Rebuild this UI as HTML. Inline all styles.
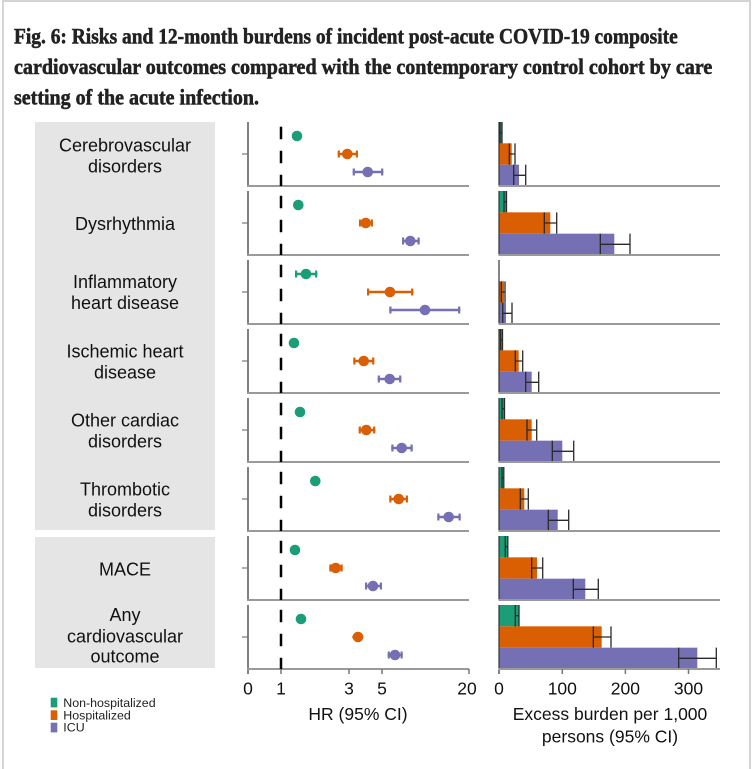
<!DOCTYPE html>
<html><head><meta charset="utf-8"><style>
html,body{margin:0;padding:0;background:#fff;}
svg{display:block;}
.ax{stroke:#555;stroke-width:1.5;}
.bx{stroke:#9a9a9a;stroke-width:2;}
.tk{stroke:#777;stroke-width:1.2;}
.dash{stroke:#000;stroke-width:2.5;stroke-dasharray:12.5 11.5;}
.eb{stroke-width:2.5;fill:none;}
.cap{stroke-width:2.2;fill:none;}
.g{stroke:#1b9e77;} .o{stroke:#d95f02;} .p{stroke:#7570b3;}
.e{stroke:#2a2a2a;stroke-width:1.3;fill:none;}
.lab{font-family:"Liberation Sans",Arial,sans-serif;font-size:18px;fill:#111;text-anchor:middle;}
.tl{font-family:"Liberation Sans",Arial,sans-serif;font-size:17.5px;fill:#111;text-anchor:middle;}
.lg{font-family:"Liberation Sans",Arial,sans-serif;font-size:12.4px;fill:#222;}
.ti{font-family:"Liberation Serif","DejaVu Serif",serif;font-weight:bold;font-size:22px;fill:#222;stroke:#222;stroke-width:0.55;}
</style></head><body>
<svg width="753" height="769" viewBox="0 0 753 769" xmlns="http://www.w3.org/2000/svg">
<rect x="0" y="0" width="753" height="769" fill="#fff"/>
<!-- frame -->
<line x1="3" y1="1" x2="750" y2="1" stroke="#d4d4d4" stroke-width="2"/>
<line x1="3" y1="0" x2="3" y2="769" stroke="#d4d4d4" stroke-width="2"/>
<line x1="750" y1="0" x2="750" y2="769" stroke="#d4d4d4" stroke-width="2"/>

<!-- title -->
<text class="ti" x="14" y="43.3" textLength="663.7" lengthAdjust="spacingAndGlyphs">Fig. 6: Risks and 12-month burdens of incident post-acute COVID-19 composite</text>
<text class="ti" x="14" y="74" textLength="698.3" lengthAdjust="spacingAndGlyphs">cardiovascular outcomes compared with the contemporary control cohort by care</text>
<text class="ti" x="14" y="104.5" textLength="245" lengthAdjust="spacingAndGlyphs">setting of the acute infection.</text>

<!-- label boxes -->
<rect x="35" y="122" width="180" height="408" fill="#e5e5e5"/>
<rect x="35" y="537" width="180" height="131" fill="#e5e5e5"/>
<text class="lab" x="125" y="151.7">Cerebrovascular</text>
<text class="lab" x="125" y="172.3">disorders</text>
<text class="lab" x="125" y="230">Dysrhythmia</text>
<text class="lab" x="125" y="288">Inflammatory</text>
<text class="lab" x="125" y="309">heart disease</text>
<text class="lab" x="125" y="357.5">Ischemic heart</text>
<text class="lab" x="125" y="378.3">disease</text>
<text class="lab" x="125" y="426.5">Other cardiac</text>
<text class="lab" x="125" y="447.3">disorders</text>
<text class="lab" x="125" y="495.5">Thrombotic</text>
<text class="lab" x="125" y="516.3">disorders</text>
<text class="lab" x="125" y="575.7">MACE</text>
<text class="lab" x="125" y="621">Any</text>
<text class="lab" x="125" y="642.3">cardiovascular</text>
<text class="lab" x="125" y="662.7">outcome</text>

<!-- ===== HR panels ===== -->
<g transform="translate(0,122)">
<line class="ax" x1="248" y1="0" x2="248" y2="64"/><line class="bx" x1="247" y1="64" x2="469" y2="64"/><line class="tk" x1="242" y1="32" x2="248" y2="32"/>
<line class="dash" x1="281" y1="4.7" x2="281" y2="64"/>
<circle cx="297" cy="14" r="5.3" fill="#1b9e77"/>
<path class="eb o" d="M337.7 32H358"/><path class="cap o" d="M338.8 28.5V35.5M356.9 28.5V35.5"/><circle cx="347.3" cy="32" r="5.3" fill="#d95f02"/>
<path class="eb p" d="M352.7 50H383.3"/><path class="cap p" d="M353.8 46.5V53.5M382.2 46.5V53.5"/><circle cx="367.7" cy="50" r="5.3" fill="#7570b3"/>
</g>
<g transform="translate(0,191)">
<line class="ax" x1="248" y1="0" x2="248" y2="64"/><line class="bx" x1="247" y1="64" x2="469" y2="64"/><line class="tk" x1="242" y1="32" x2="248" y2="32"/>
<line class="dash" x1="281" y1="4.7" x2="281" y2="64"/>
<circle cx="298.3" cy="14" r="5.3" fill="#1b9e77"/>
<path class="eb o" d="M359 32H373"/><path class="cap o" d="M360.1 28.5V35.5M371.9 28.5V35.5"/><circle cx="365.7" cy="32" r="5.3" fill="#d95f02"/>
<path class="eb p" d="M402 50H419.7"/><path class="cap p" d="M403.1 46.5V53.5M418.6 46.5V53.5"/><circle cx="410.3" cy="50" r="5.3" fill="#7570b3"/>
</g>
<g transform="translate(0,260)">
<line class="ax" x1="248" y1="0" x2="248" y2="64"/><line class="bx" x1="247" y1="64" x2="469" y2="64"/><line class="tk" x1="242" y1="32" x2="248" y2="32"/>
<line class="dash" x1="281" y1="4.7" x2="281" y2="64"/>
<path class="eb g" d="M295 14H317.3"/><path class="cap g" d="M296.1 10.5V17.5M316.2 10.5V17.5"/><circle cx="306" cy="14" r="5.3" fill="#1b9e77"/>
<path class="eb o" d="M367 32H413.3"/><path class="cap o" d="M368.1 28.5V35.5M412.2 28.5V35.5"/><circle cx="390" cy="32" r="5.3" fill="#d95f02"/>
<path class="eb p" d="M389.3 50H460.3"/><path class="cap p" d="M390.4 46.5V53.5M459.2 46.5V53.5"/><circle cx="425" cy="50" r="5.3" fill="#7570b3"/>
</g>
<g transform="translate(0,329)">
<line class="ax" x1="248" y1="0" x2="248" y2="64"/><line class="bx" x1="247" y1="64" x2="469" y2="64"/><line class="tk" x1="242" y1="32" x2="248" y2="32"/>
<line class="dash" x1="281" y1="4.7" x2="281" y2="64"/>
<circle cx="294" cy="14" r="5.3" fill="#1b9e77"/>
<path class="eb o" d="M353.3 32H374.3"/><path class="cap o" d="M354.4 28.5V35.5M373.2 28.5V35.5"/><circle cx="363.7" cy="32" r="5.3" fill="#d95f02"/>
<path class="eb p" d="M377.7 50H401.3"/><path class="cap p" d="M378.8 46.5V53.5M400.2 46.5V53.5"/><circle cx="389.7" cy="50" r="5.3" fill="#7570b3"/>
</g>
<g transform="translate(0,398)">
<line class="ax" x1="248" y1="0" x2="248" y2="64"/><line class="bx" x1="247" y1="64" x2="469" y2="64"/><line class="tk" x1="242" y1="32" x2="248" y2="32"/>
<line class="dash" x1="281" y1="4.7" x2="281" y2="64"/>
<circle cx="300" cy="14" r="5.3" fill="#1b9e77"/>
<path class="eb o" d="M358.7 32H375.3"/><path class="cap o" d="M359.8 28.5V35.5M374.2 28.5V35.5"/><circle cx="366.3" cy="32" r="5.3" fill="#d95f02"/>
<path class="eb p" d="M391.3 50H412.7"/><path class="cap p" d="M392.4 46.5V53.5M411.6 46.5V53.5"/><circle cx="401.7" cy="50" r="5.3" fill="#7570b3"/>
</g>
<g transform="translate(0,467)">
<line class="ax" x1="248" y1="0" x2="248" y2="64"/><line class="bx" x1="247" y1="64" x2="469" y2="64"/><line class="tk" x1="242" y1="32" x2="248" y2="32"/>
<line class="dash" x1="281" y1="4.7" x2="281" y2="64"/>
<circle cx="315.3" cy="14" r="5.3" fill="#1b9e77"/>
<path class="eb o" d="M389.3 32H408"/><path class="cap o" d="M390.4 28.5V35.5M406.9 28.5V35.5"/><circle cx="398.7" cy="32" r="5.3" fill="#d95f02"/>
<path class="eb p" d="M437.3 50H460.7"/><path class="cap p" d="M438.4 46.5V53.5M459.6 46.5V53.5"/><circle cx="448.7" cy="50" r="5.3" fill="#7570b3"/>
</g>
<g transform="translate(0,536)">
<line class="ax" x1="248" y1="0" x2="248" y2="64"/><line class="bx" x1="247" y1="64" x2="469" y2="64"/><line class="tk" x1="242" y1="32" x2="248" y2="32"/>
<line class="dash" x1="281" y1="4.7" x2="281" y2="64"/>
<circle cx="295" cy="14" r="5.3" fill="#1b9e77"/>
<path class="eb o" d="M329.3 32H342.7"/><path class="cap o" d="M330.4 28.5V35.5M341.6 28.5V35.5"/><circle cx="335.7" cy="32" r="5.3" fill="#d95f02"/>
<path class="eb p" d="M365 50H382"/><path class="cap p" d="M366.1 46.5V53.5M380.9 46.5V53.5"/><circle cx="373" cy="50" r="5.3" fill="#7570b3"/>
</g>
<g transform="translate(0,605)">
<line class="ax" x1="248" y1="0" x2="248" y2="69"/><line class="bx" x1="247" y1="64" x2="469" y2="64"/><line class="tk" x1="242" y1="32" x2="248" y2="32"/>
<line class="dash" x1="281" y1="4.7" x2="281" y2="64"/>
<circle cx="301" cy="14" r="5.3" fill="#1b9e77"/>
<path class="eb o" d="M352.3 32H363.3"/><circle cx="358" cy="32" r="5.3" fill="#d95f02"/>
<path class="eb p" d="M387.7 50H402.7"/><path class="cap p" d="M388.8 46.5V53.5M401.6 46.5V53.5"/><circle cx="395" cy="50" r="5.3" fill="#7570b3"/>
<path d="M281 64V69M349 64V69M382 64V69M469 64V69" stroke="#777" stroke-width="1.5"/>
</g>
<text class="tl" x="248" y="694.3">0</text>
<text class="tl" x="281" y="694.3">1</text>
<text class="tl" x="349" y="694.3">3</text>
<text class="tl" x="382" y="694.3">5</text>
<text class="tl" x="467" y="694.3">20</text>
<text class="tl" x="358" y="720">HR (95% CI)</text>

<!-- ===== Bar panels ===== -->
<g transform="translate(0,122)">
<rect x="499" y="0" width="2.5" height="21.33" fill="#1b9e77"/>
<rect x="499" y="21.33" width="12.7" height="21.34" fill="#d95f02"/>
<rect x="499" y="42.67" width="20" height="21.33" fill="#7570b3"/>
<path class="e" d="M500 0V21.33M502 0V21.33M500 10.67H502"/>
<path class="e" d="M509.3 21.33V42.67M515 21.33V42.67M509.3 32H515"/>
<path class="e" d="M513.7 42.67V64M525.7 42.67V64M513.7 53.33H525.7"/>
<line x1="499" y1="0" x2="499" y2="64" stroke="#333" stroke-width="1.2"/>
<line class="bx" x1="498.5" y1="64" x2="720" y2="64"/>
</g>
<g transform="translate(0,191)">
<rect x="499" y="0" width="7" height="21.33" fill="#1b9e77"/>
<rect x="499" y="21.33" width="51.3" height="21.34" fill="#d95f02"/>
<rect x="499" y="42.67" width="115.3" height="21.33" fill="#7570b3"/>
<path class="e" d="M504 0V21.33M506.5 0V21.33M504 10.67H506.5"/>
<path class="e" d="M544.3 21.33V42.67M556.7 21.33V42.67M544.3 32H556.7"/>
<path class="e" d="M600.3 42.67V64M630 42.67V64M600.3 53.33H630"/>
<line x1="499" y1="0" x2="499" y2="64" stroke="#333" stroke-width="1.2"/>
<line class="bx" x1="498.5" y1="64" x2="720" y2="64"/>
</g>
<g transform="translate(0,260)">
<rect x="499" y="0" width="0.5" height="21.33" fill="#1b9e77"/>
<rect x="499" y="21.33" width="5" height="21.34" fill="#d95f02"/>
<rect x="499" y="42.67" width="7" height="21.33" fill="#7570b3"/>
<path class="e" d="M501.3 21.33V42.67M505 21.33V42.67M501.3 32H505"/>
<path class="e" d="M502.7 42.67V64M512 42.67V64M502.7 53.33H512"/>
<line x1="499" y1="0" x2="499" y2="64" stroke="#333" stroke-width="1.2"/>
<line class="bx" x1="498.5" y1="64" x2="720" y2="64"/>
</g>
<g transform="translate(0,329)">
<rect x="499" y="0" width="3" height="21.33" fill="#1b9e77"/>
<rect x="499" y="21.33" width="19.7" height="21.34" fill="#d95f02"/>
<rect x="499" y="42.67" width="32.7" height="21.33" fill="#7570b3"/>
<path class="e" d="M500.5 0V21.33M502.5 0V21.33M500.5 10.67H502.5"/>
<path class="e" d="M515.3 21.33V42.67M522.7 21.33V42.67M515.3 32H522.7"/>
<path class="e" d="M525.7 42.67V64M538.7 42.67V64M525.7 53.33H538.7"/>
<line x1="499" y1="0" x2="499" y2="64" stroke="#333" stroke-width="1.2"/>
<line class="bx" x1="498.5" y1="64" x2="720" y2="64"/>
</g>
<g transform="translate(0,398)">
<rect x="499" y="0" width="5" height="21.33" fill="#1b9e77"/>
<rect x="499" y="21.33" width="32.7" height="21.34" fill="#d95f02"/>
<rect x="499" y="42.67" width="63.3" height="21.33" fill="#7570b3"/>
<path class="e" d="M502 0V21.33M504.5 0V21.33M502 10.67H504.5"/>
<path class="e" d="M527 21.33V42.67M536.7 21.33V42.67M527 32H536.7"/>
<path class="e" d="M552.3 42.67V64M573.7 42.67V64M552.3 53.33H573.7"/>
<line x1="499" y1="0" x2="499" y2="64" stroke="#333" stroke-width="1.2"/>
<line class="bx" x1="498.5" y1="64" x2="720" y2="64"/>
</g>
<g transform="translate(0,467)">
<rect x="499" y="0" width="4.3" height="21.33" fill="#1b9e77"/>
<rect x="499" y="21.33" width="25.3" height="21.34" fill="#d95f02"/>
<rect x="499" y="42.67" width="58.7" height="21.33" fill="#7570b3"/>
<path class="e" d="M502 0V21.33M503.8 0V21.33M502 10.67H503.8"/>
<path class="e" d="M520.3 21.33V42.67M528.3 21.33V42.67M520.3 32H528.3"/>
<path class="e" d="M548.3 42.67V64M568.7 42.67V64M548.3 53.33H568.7"/>
<line x1="499" y1="0" x2="499" y2="64" stroke="#333" stroke-width="1.2"/>
<line class="bx" x1="498.5" y1="64" x2="720" y2="64"/>
</g>
<g transform="translate(0,536)">
<rect x="499" y="0" width="8.3" height="21.33" fill="#1b9e77"/>
<rect x="499" y="21.33" width="38" height="21.34" fill="#d95f02"/>
<rect x="499" y="42.67" width="86.3" height="21.33" fill="#7570b3"/>
<path class="e" d="M505.3 0V21.33M507.8 0V21.33M505.3 10.67H507.8"/>
<path class="e" d="M531.7 21.33V42.67M542.7 21.33V42.67M531.7 32H542.7"/>
<path class="e" d="M573.3 42.67V64M598.3 42.67V64M573.3 53.33H598.3"/>
<line x1="499" y1="0" x2="499" y2="64" stroke="#333" stroke-width="1.2"/>
<line class="bx" x1="498.5" y1="64" x2="720" y2="64"/>
</g>
<g transform="translate(0,605)">
<rect x="499" y="0" width="19.7" height="21.33" fill="#1b9e77"/>
<rect x="499" y="21.33" width="102.7" height="21.34" fill="#d95f02"/>
<rect x="499" y="42.67" width="198.3" height="21.33" fill="#7570b3"/>
<path class="e" d="M515.3 0V21.33M519 0V21.33M515.3 10.67H519"/>
<path class="e" d="M593.3 21.33V42.67M611 21.33V42.67M593.3 32H611"/>
<path class="e" d="M678.7 42.67V64M716.3 42.67V64M678.7 53.33H716.3"/>
<line x1="499" y1="0" x2="499" y2="69" stroke="#333" stroke-width="1.2"/>
<line class="bx" x1="498.5" y1="64" x2="720" y2="64"/>
<path d="M562.3 64V69M625.4 64V69M688.5 64V69" stroke="#777" stroke-width="1.5"/>
</g>
<text class="tl" x="499" y="694.3">0</text>
<text class="tl" x="562.3" y="694.3">100</text>
<text class="tl" x="625.4" y="694.3">200</text>
<text class="tl" x="688.5" y="694.3">300</text>
<text class="tl" x="610" y="720">Excess burden per 1,000</text>
<text class="tl" x="610" y="742.5">persons (95% CI)</text>

<!-- legend -->
<rect x="50.7" y="697.7" width="6.6" height="9.7" fill="#1b9e77"/>
<rect x="50.7" y="710.3" width="6.6" height="9.7" fill="#d95f02"/>
<rect x="50.7" y="722.7" width="6.6" height="9.7" fill="#7570b3"/>
<text class="lg" x="63.3" y="707">Non-hospitalized</text>
<text class="lg" x="63.3" y="719.3">Hospitalized</text>
<text class="lg" x="63.3" y="731.6">ICU</text>
</svg>
</body></html>
